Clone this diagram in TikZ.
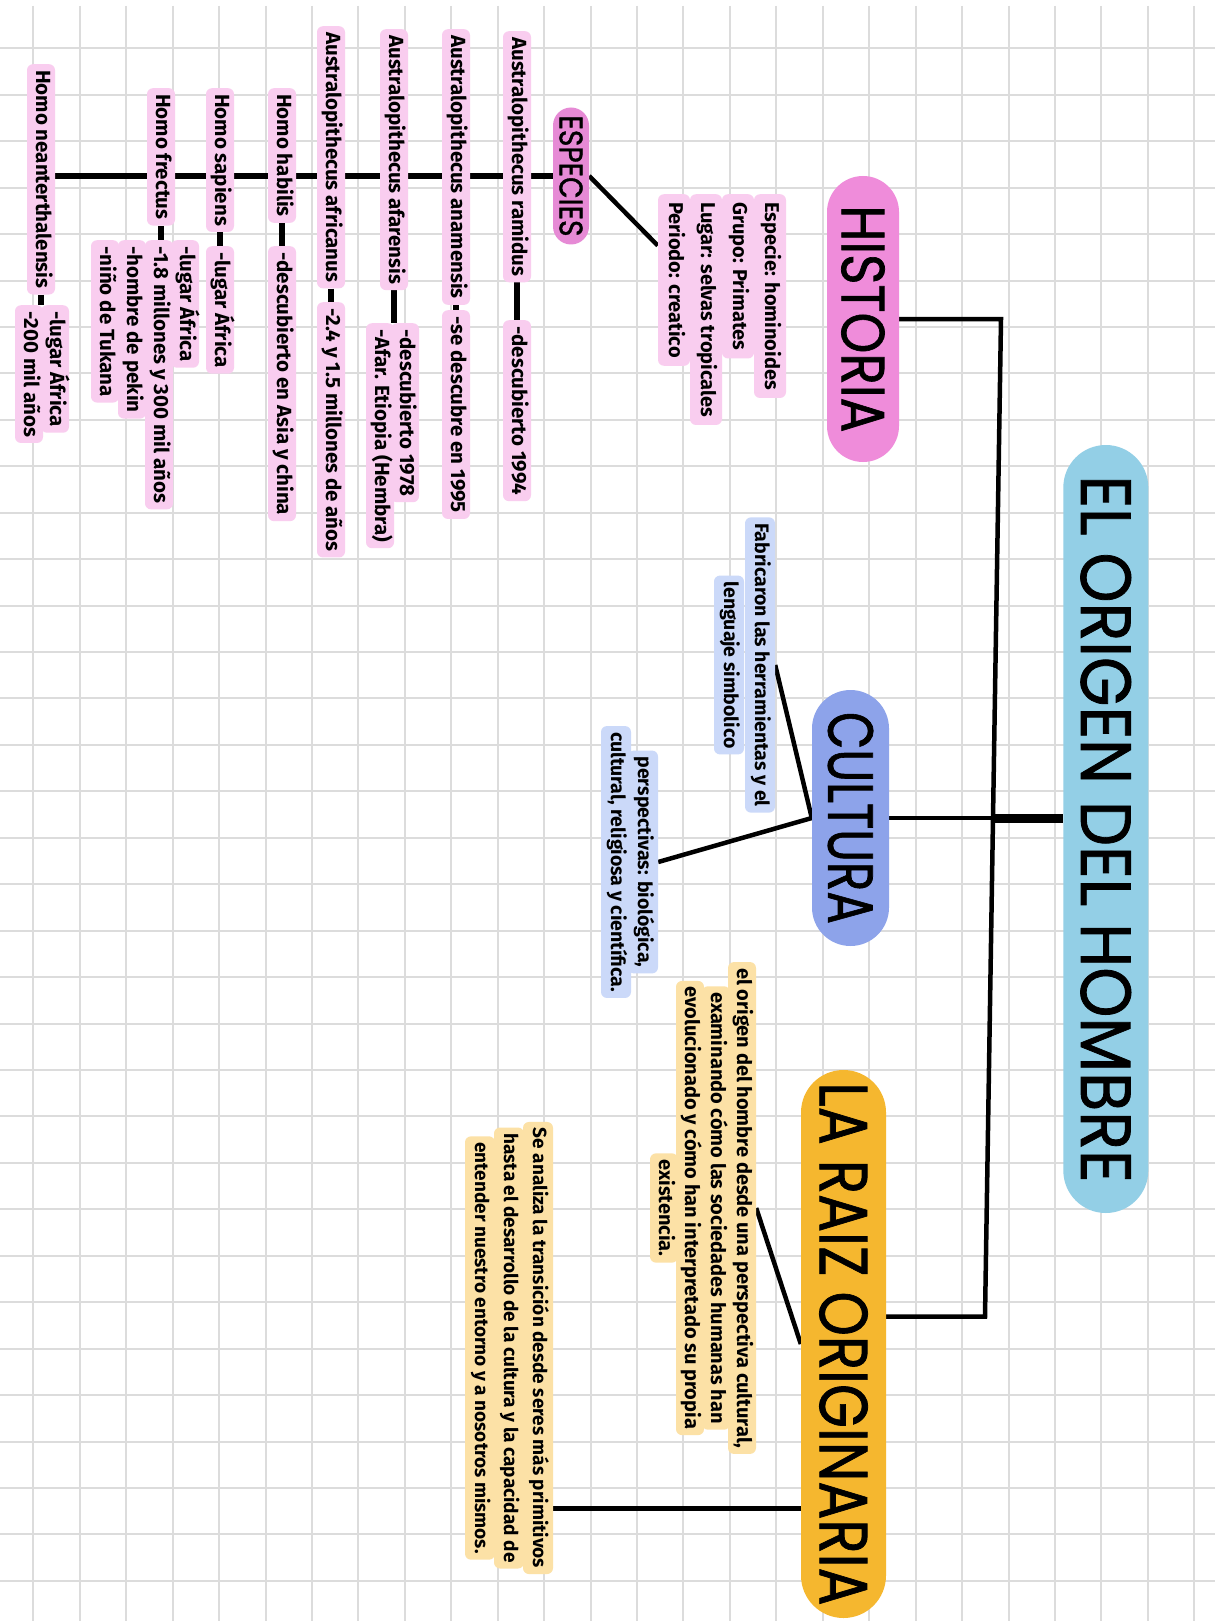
\documentclass[tikz,border=0pt]{standalone}
\usepackage{fontspec}
\usepackage{graphicx}
\usetikzlibrary{calc}
\newfontfamily\handfont{Fira Sans}
\newfontfamily\titlefont[FakeBold=1.2]{Poppins}
\definecolor{gridc}{HTML}{DCDCDC}
\definecolor{titleblue}{HTML}{93CFE6}
\definecolor{histpink}{HTML}{EF8CDA}
\definecolor{esppink}{HTML}{E68AD5}
\definecolor{lightpink}{HTML}{F9CDEF}
\definecolor{cultblue}{HTML}{8DA3EA}
\definecolor{lightblue}{HTML}{CBD9F9}
\definecolor{raizorange}{HTML}{F5B72F}
\definecolor{lightyellow}{HTML}{FCE1A6}
\pgfdeclarelayer{gridlayer}
\pgfdeclarelayer{linklayer}
\pgfsetlayers{gridlayer,linklayer,main}
\newcommand\hfnt[1]{\handfont\bfseries\fontsize{#1}{#1}\selectfont}
\tikzset{
  bigbox/.style={rotate=-90, inner sep=0pt, font=\titlefont, text=black},
  sbox/.style={rotate=-90, rounded corners=6pt, inner xsep=6pt, inner ysep=4pt,
    text height=15pt, text depth=5pt, text=black},
  spk/.style={sbox, fill=lightpink, font=\hfnt{20.5pt}},
  sinfo/.style={sbox, fill=lightpink, font=\hfnt{20pt}, inner xsep=8pt, inner ysep=6pt},
  sbl/.style={sbox, fill=lightblue, font=\hfnt{19.5pt}, inner ysep=5pt},
  syl/.style={sbox, fill=lightyellow, font=\hfnt{20pt}},
  syl2/.style={sbox, fill=lightyellow, font=\hfnt{19pt}, inner ysep=5pt},
  link/.style={line width=4.5pt, black},
  slink/.style={line width=5.5pt, black},
  gridline/.style={gridc, line width=2pt},
}
\begin{document}
\begin{tikzpicture}[x=1pt,y=-1pt]
\useasboundingbox (0,0) rectangle (1225,1621);
\begin{pgfonlayer}{gridlayer}
\fill[white] (0,0) rectangle (1225,1621);
\foreach \k in {0,...,25} \draw[gridline] ({33.3+46.44*\k},6) -- ({33.3+46.44*\k},1621);
\foreach \j in {0,...,33} \draw[gridline] (0,{48.3+46.44*\j}) -- (1215,{48.3+46.44*\j});
\end{pgfonlayer}

% main titles
\node[bigbox, fill=titleblue, minimum width=768pt, minimum height=85pt, rounded corners=42.5pt] (title) at (1105.8,829) {\resizebox{707pt}{50pt}{EL ORIGEN DEL HOMBRE}};
\node[bigbox, fill=histpink, minimum width=286pt, minimum height=72pt, rounded corners=36pt] (historia) at (863,319) {\resizebox{227pt}{43pt}{HISTORIA}};
\node[bigbox, fill=cultblue, minimum width=256pt, minimum height=77pt, rounded corners=38.5pt] (cultura) at (850.5,818) {\resizebox{212pt}{45pt}{CULTURA}};
\node[bigbox, fill=raizorange, minimum width=548pt, minimum height=85pt, rounded corners=42.5pt] (raiz) at (843.5,1344) {\resizebox{523pt}{48pt}{LA RAIZ ORIGINARIA}};
\node[bigbox, fill=esppink, minimum width=137pt, minimum height=36pt, rounded corners=18pt] (especies) at (571,176) {\resizebox{121pt}{23pt}{ESPECIES}};

% historia info
\node[sinfo, anchor=west] (info1) at (770,194) {Especie: hominoides};
\node[sinfo, anchor=west] (info2) at (738,194) {Grupo: Primates};
\node[sinfo, anchor=west] (info3) at (706,194) {Lugar: selvas tropicales};
\node[sinfo, anchor=west] (info4) at (674,194) {Periodo: creatico};

% species
\node[spk, anchor=west] (ram) at (517,31) {Australopithecus ramidus};
\node[spk, anchor=west] (ramd) at (517,320) {-descubierto 1994};
\node[spk, anchor=west] (ana) at (456,29) {Australopithecus anamensis};
\node[spk, anchor=west] (anad) at (456,310) {-se descubre en 1995};
\node[spk, anchor=west] (afa) at (394,29) {Australopithecus afarensis};
\node[spk, anchor=west] (afd1) at (405,323) {-descubierto 1978};
\node[spk, anchor=west] (afd2) at (380,323) {-Afar. Etiopia (Hembra)};
\node[spk, anchor=west] (afr) at (331,26) {Australopithecus africanus};
\node[spk, anchor=west] (afrd) at (331,302) {-2.4 y 1.5 millones de años};
\node[spk, anchor=west] (hab) at (282,88) {Homo habilis};
\node[spk, anchor=west] (habd) at (282,246) {-descubierto en Asia y china};
\node[spk, anchor=west] (sap) at (220,88) {Homo sapiens};
\node[spk, anchor=west] (sapd) at (220,246) {-lugar África};
\node[spk, anchor=west] (fre) at (161,88) {Homo frectus};
\node[spk, anchor=west] (fd1) at (185,240) {-lugar África};
\node[spk, anchor=west] (fd2) at (159,240) {-1.8 millones y 300 mil años};
\node[spk, anchor=west] (fd3) at (132,240) {-hombre de pekin};
\node[spk, anchor=west] (fd4) at (105,240) {-niño de Tukana};
\node[spk, anchor=west] (nea) at (41,64) {Homo neanterthalensis};
\node[spk, anchor=west] (nd1) at (55,305) {-lugar África};
\node[spk, anchor=west] (nd2) at (29,305) {-200 mil años};

% cultura
\node[sbl] (fab1) at (760,665) {Fabricaron las herramientas y el};
\node[sbl] (fab2) at (729,665) {lenguaje simbolico};
\node[sbl] (persp1) at (643,862) {perspectivas: biológica,};
\node[sbl] (persp2) at (616,862) {cultural, religiosa y científica.};

% raiz
\node[syl] (ori1) at (742,1208) {el origen del hombre desde una perspectiva cultural,};
\node[syl] (ori2) at (716,1208) {examinando cómo las sociedades humanas han};
\node[syl] (ori3) at (690,1208) {evolucionado y cómo han interpretado su propia};
\node[syl] (ori4) at (664,1208) {existencia.};
\node[syl2] (ana1) at (538,1348) {Se analiza la transición desde seres más primitivos};
\node[syl2] (ana2) at (509,1348) {hasta el desarrollo de la cultura y la capacidad de};
\node[syl2] (ana3) at (480,1348) {entender nuestro entorno y a nosotros mismos.};

\coordinate (trunkTop) at (1001,0);
\coordinate (trunkBot) at (985,0);
\coordinate (trunkMid) at (993,818);
\coordinate (raizR) at ($(raiz.north west)!0.45!(raiz.north east)$);
\coordinate (raizL) at ($(raiz.south west)!0.8!(raiz.south east)$);
\coordinate (infoE) at ($(info4.south west)!0.3!(info4.south east)$);

\begin{pgfonlayer}{linklayer}
\draw[link] (historia.north) -- (trunkTop |- historia.north) -- (trunkBot |- raizR) -- (raizR);
\draw[link] (cultura.north) -- (title.south |- cultura.north);
\draw[line width=9pt] (trunkMid) -- (title.south |- cultura.north);
\draw[link] (cultura.south) -- (fab1.north);
\draw[link] (cultura.south) -- (persp1.north);
\draw[link] (raiz.south) -- (ori1.north);
\draw[link] (raizL) -- (ana1.north |- raizL);
\draw[link] (especies.north) -- (infoE);
\draw[slink] (nea.center |- especies.south) -- (especies.south);
\draw[slink] (ram.east) -- (ramd.west);
\draw[slink] (ana.east) -- (anad.west);
\draw[slink] (afa.east) -- (afa.east |- afd1.west);
\draw[slink] (afr.east) -- (afrd.west);
\draw[slink] (hab.east) -- (habd.west);
\draw[slink] (sap.east) -- (sapd.west);
\draw[slink] (fre.east) -- (fre.east |- fd2.west);
\draw[slink] (nea.east) -- (nea.east |- nd1.west);
\end{pgfonlayer}
\end{tikzpicture}
\end{document}
